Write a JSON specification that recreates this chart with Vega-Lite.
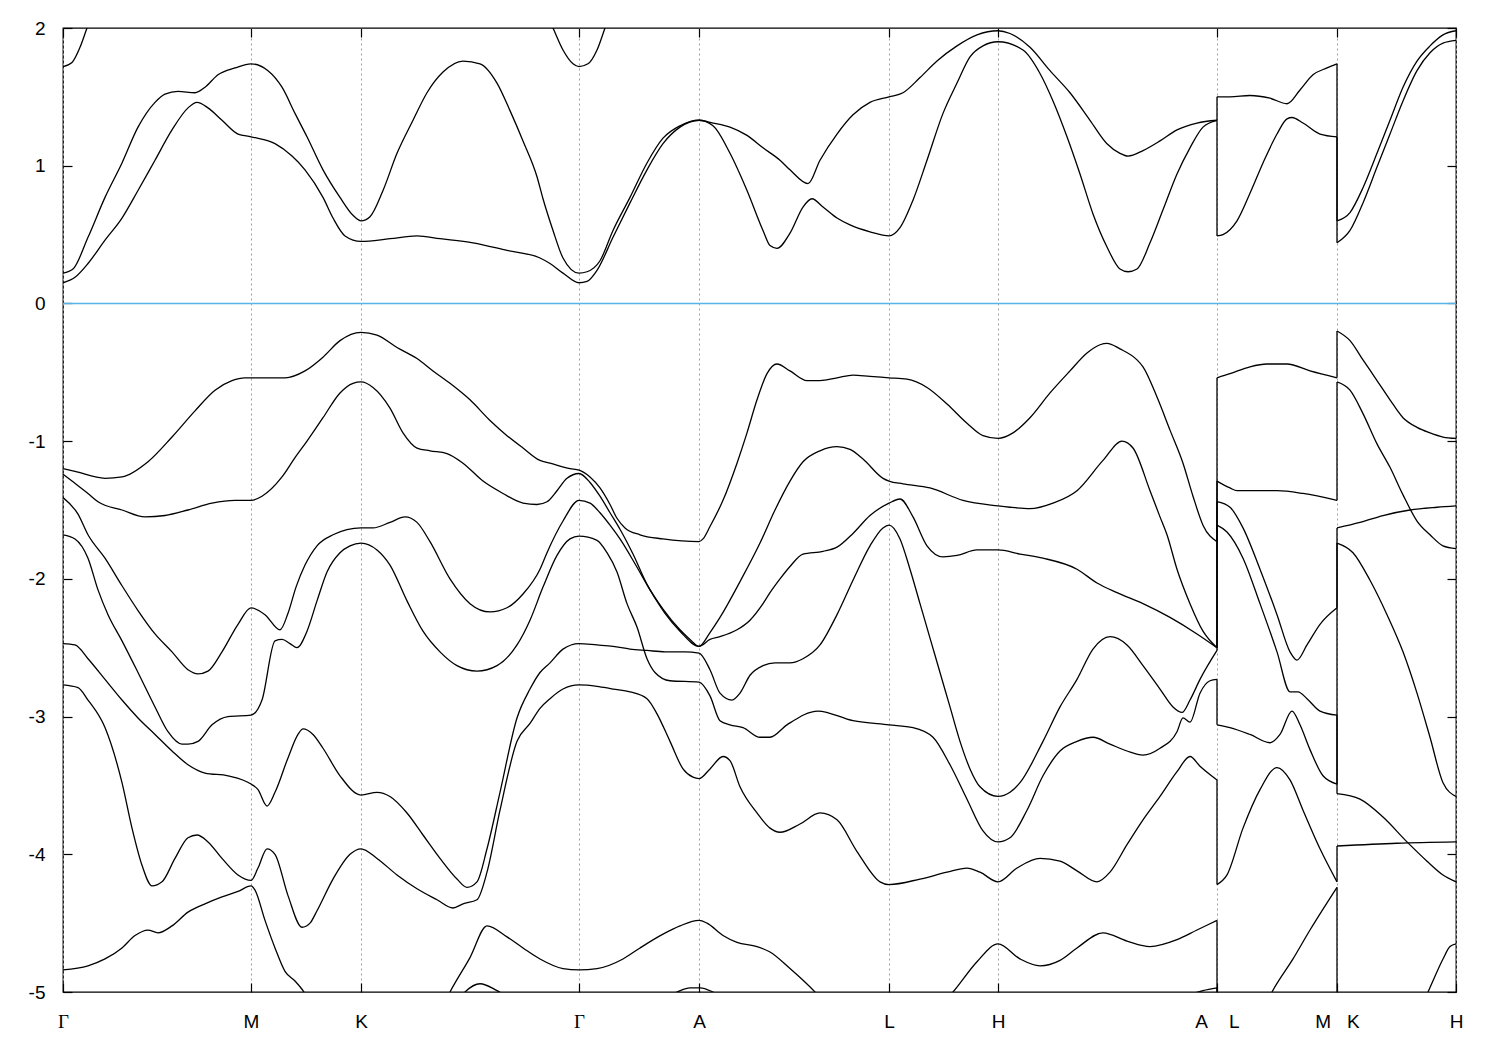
{
"$schema": "https://vega.github.io/schema/vega-lite/v6.json",
"width": 1393, "height": 964,
"autosize": {"type": "none"},
"padding": {"left": 63, "top": 28, "right": 44, "bottom": 58},
"background": "white",
"config": {"view": {"stroke": "black", "strokeWidth": 1.3}, "axis": {"domain": false, "labelColor": "black", "tickColor": "black", "tickWidth": 1.2}},
"resolve": {"axis": {"x": "independent", "y": "independent"}},
"layer": [
{
"data": {"values": [
{"b":"C1","k":0,"e":0.15},{"b":"C1","k":0.12,"e":0.19},{"b":"C1","k":0.25,"e":0.29},{"b":"C1","k":0.42,"e":0.46},{"b":"C1","k":0.59,"e":0.62},{"b":"C1","k":0.75,"e":0.82},{"b":"C1","k":0.92,"e":1.04},{"b":"C1","k":1.09,"e":1.26},{"b":"C1","k":1.25,"e":1.42},{"b":"C1","k":1.34,"e":1.46},{"b":"C1","k":1.45,"e":1.42},{"b":"C1","k":1.59,"e":1.33},{"b":"C1","k":1.75,"e":1.23},{"b":"C1","k":1.88,"e":1.21},{"b":"C1","k":2.12,"e":1.16},{"b":"C1","k":2.29,"e":1.07},{"b":"C1","k":2.42,"e":0.97},{"b":"C1","k":2.6,"e":0.77},{"b":"C1","k":2.7,"e":0.62},{"b":"C1","k":2.82,"e":0.49},{"b":"C1","k":2.98,"e":0.45},{"b":"C1","k":3.27,"e":0.47},{"b":"C1","k":3.54,"e":0.49},{"b":"C1","k":3.77,"e":0.47},{"b":"C1","k":4.1,"e":0.44},{"b":"C1","k":4.44,"e":0.385},{"b":"C1","k":4.77,"e":0.33},{"b":"C1","k":4.87,"e":0.29},{"b":"C1","k":5.0,"e":0.22},{"b":"C1","k":5.16,"e":0.15},{"b":"C1","k":5.24,"e":0.16},{"b":"C1","k":5.34,"e":0.24},{"b":"C1","k":5.5,"e":0.48},{"b":"C1","k":5.67,"e":0.73},{"b":"C1","k":5.84,"e":0.97},{"b":"C1","k":6.0,"e":1.16},{"b":"C1","k":6.17,"e":1.28},{"b":"C1","k":6.36,"e":1.33},{"b":"C1","k":6.5,"e":1.29},{"b":"C1","k":6.67,"e":1.09},{"b":"C1","k":6.84,"e":0.82},{"b":"C1","k":7.0,"e":0.53},{"b":"C1","k":7.07,"e":0.42},{"b":"C1","k":7.14,"e":0.40},{"b":"C1","k":7.27,"e":0.51},{"b":"C1","k":7.4,"e":0.70},{"b":"C1","k":7.49,"e":0.76},{"b":"C1","k":7.6,"e":0.70},{"b":"C1","k":7.74,"e":0.62},{"b":"C1","k":7.87,"e":0.57},{"b":"C1","k":8.07,"e":0.52},{"b":"C1","k":8.26,"e":0.49},{"b":"C1","k":8.37,"e":0.55},{"b":"C1","k":8.5,"e":0.75},{"b":"C1","k":8.64,"e":1.04},{"b":"C1","k":8.8,"e":1.38},{"b":"C1","k":8.94,"e":1.60},{"b":"C1","k":9.07,"e":1.79},{"b":"C1","k":9.2,"e":1.87},{"b":"C1","k":9.35,"e":1.90},{"b":"C1","k":9.6,"e":1.84},{"b":"C1","k":9.77,"e":1.67},{"b":"C1","k":9.9,"e":1.47},{"b":"C1","k":10.04,"e":1.21},{"b":"C1","k":10.17,"e":0.94},{"b":"C1","k":10.3,"e":0.65},{"b":"C1","k":10.44,"e":0.41},{"b":"C1","k":10.57,"e":0.25},{"b":"C1","k":10.65,"e":0.23},{"b":"C1","k":10.74,"e":0.25},{"b":"C1","k":10.87,"e":0.44},{"b":"C1","k":11.0,"e":0.68},{"b":"C1","k":11.14,"e":0.94},{"b":"C1","k":11.27,"e":1.13},{"b":"C1","k":11.4,"e":1.28},{"b":"C1","k":11.54,"e":1.33},
{"b":"C1b","k":11.54,"e":0.49},{"b":"C1b","k":11.6,"e":0.50},{"b":"C1b","k":11.74,"e":0.60},{"b":"C1b","k":11.87,"e":0.80},{"b":"C1b","k":12.0,"e":1.02},{"b":"C1b","k":12.14,"e":1.23},{"b":"C1b","k":12.24,"e":1.34},{"b":"C1b","k":12.29,"e":1.35},{"b":"C1b","k":12.4,"e":1.31},{"b":"C1b","k":12.57,"e":1.23},{"b":"C1b","k":12.74,"e":1.21},
{"b":"C1c","k":12.74,"e":0.44},{"b":"C1c","k":12.87,"e":0.53},{"b":"C1c","k":13.0,"e":0.73},{"b":"C1c","k":13.14,"e":0.99},{"b":"C1c","k":13.27,"e":1.23},{"b":"C1c","k":13.4,"e":1.47},{"b":"C1c","k":13.54,"e":1.69},{"b":"C1c","k":13.67,"e":1.82},{"b":"C1c","k":13.8,"e":1.89},{"b":"C1c","k":13.93,"e":1.91},
{"b":"C2","k":0,"e":0.22},{"b":"C2","k":0.10,"e":0.25},{"b":"C2","k":0.25,"e":0.48},{"b":"C2","k":0.42,"e":0.77},{"b":"C2","k":0.59,"e":1.02},{"b":"C2","k":0.75,"e":1.28},{"b":"C2","k":0.92,"e":1.46},{"b":"C2","k":1.02,"e":1.52},{"b":"C2","k":1.15,"e":1.54},{"b":"C2","k":1.32,"e":1.53},{"b":"C2","k":1.42,"e":1.57},{"b":"C2","k":1.55,"e":1.66},{"b":"C2","k":1.72,"e":1.71},{"b":"C2","k":1.88,"e":1.74},{"b":"C2","k":2.05,"e":1.69},{"b":"C2","k":2.19,"e":1.57},{"b":"C2","k":2.32,"e":1.38},{"b":"C2","k":2.44,"e":1.21},{"b":"C2","k":2.6,"e":0.97},{"b":"C2","k":2.77,"e":0.77},{"b":"C2","k":2.9,"e":0.64},{"b":"C2","k":2.98,"e":0.60},{"b":"C2","k":3.07,"e":0.63},{"b":"C2","k":3.2,"e":0.82},{"b":"C2","k":3.34,"e":1.09},{"b":"C2","k":3.5,"e":1.33},{"b":"C2","k":3.64,"e":1.53},{"b":"C2","k":3.8,"e":1.68},{"b":"C2","k":4.0,"e":1.76},{"b":"C2","k":4.17,"e":1.74},{"b":"C2","k":4.34,"e":1.60},{"b":"C2","k":4.47,"e":1.40},{"b":"C2","k":4.6,"e":1.18},{"b":"C2","k":4.74,"e":0.92},{"b":"C2","k":4.8,"e":0.76},{"b":"C2","k":4.9,"e":0.53},{"b":"C2","k":5.0,"e":0.33},{"b":"C2","k":5.16,"e":0.22},{"b":"C2","k":5.24,"e":0.23},{"b":"C2","k":5.37,"e":0.31},{"b":"C2","k":5.5,"e":0.53},{"b":"C2","k":5.67,"e":0.77},{"b":"C2","k":5.84,"e":1.02},{"b":"C2","k":6.0,"e":1.20},{"b":"C2","k":6.17,"e":1.29},{"b":"C2","k":6.36,"e":1.33},{"b":"C2","k":6.5,"e":1.31},{"b":"C2","k":6.67,"e":1.28},{"b":"C2","k":6.84,"e":1.22},{"b":"C2","k":7.0,"e":1.13},{"b":"C2","k":7.17,"e":1.04},{"b":"C2","k":7.27,"e":0.97},{"b":"C2","k":7.45,"e":0.87},{"b":"C2","k":7.57,"e":1.04},{"b":"C2","k":7.74,"e":1.23},{"b":"C2","k":7.9,"e":1.37},{"b":"C2","k":8.07,"e":1.46},{"b":"C2","k":8.26,"e":1.50},{"b":"C2","k":8.4,"e":1.53},{"b":"C2","k":8.57,"e":1.64},{"b":"C2","k":8.74,"e":1.76},{"b":"C2","k":8.94,"e":1.87},{"b":"C2","k":9.14,"e":1.95},{"b":"C2","k":9.35,"e":1.98},{"b":"C2","k":9.47,"e":1.96},{"b":"C2","k":9.67,"e":1.86},{"b":"C2","k":9.87,"e":1.69},{"b":"C2","k":10.07,"e":1.53},{"b":"C2","k":10.27,"e":1.33},{"b":"C2","k":10.44,"e":1.16},{"b":"C2","k":10.57,"e":1.09},{"b":"C2","k":10.65,"e":1.07},{"b":"C2","k":10.8,"e":1.11},{"b":"C2","k":10.97,"e":1.18},{"b":"C2","k":11.14,"e":1.26},{"b":"C2","k":11.34,"e":1.31},{"b":"C2","k":11.54,"e":1.33},
{"b":"C2b","k":11.54,"e":1.50},{"b":"C2b","k":11.67,"e":1.50},{"b":"C2b","k":11.87,"e":1.51},{"b":"C2b","k":12.07,"e":1.49},{"b":"C2b","k":12.24,"e":1.45},{"b":"C2b","k":12.37,"e":1.55},{"b":"C2b","k":12.5,"e":1.66},{"b":"C2b","k":12.64,"e":1.71},{"b":"C2b","k":12.74,"e":1.74},
{"b":"C2c","k":12.74,"e":0.60},{"b":"C2c","k":12.87,"e":0.66},{"b":"C2c","k":13.0,"e":0.84},{"b":"C2c","k":13.14,"e":1.09},{"b":"C2c","k":13.27,"e":1.33},{"b":"C2c","k":13.4,"e":1.57},{"b":"C2c","k":13.54,"e":1.76},{"b":"C2c","k":13.67,"e":1.87},{"b":"C2c","k":13.8,"e":1.95},{"b":"C2c","k":13.93,"e":1.98},
{"b":"C3","k":0,"e":1.72},{"b":"C3","k":0.09,"e":1.75},{"b":"C3","k":0.17,"e":1.86},{"b":"C3","k":0.24,"e":2.0},{"b":"C3","k":0.32,"e":2.15},{"b":"C3","k":0.57,"e":2.5},{"b":"C3","k":2.37,"e":2.8},{"b":"C3","k":4.77,"e":2.2},{"b":"C3","k":4.9,"e":2.0},{"b":"C3","k":5.0,"e":1.84},{"b":"C3","k":5.1,"e":1.74},{"b":"C3","k":5.16,"e":1.72},{"b":"C3","k":5.25,"e":1.74},{"b":"C3","k":5.34,"e":1.84},{"b":"C3","k":5.42,"e":2.0},{"b":"C3","k":5.52,"e":2.2},{"b":"C3","k":5.97,"e":2.6},
{"b":"V1","k":0,"e":-1.20},{"b":"V1","k":0.12,"e":-1.22},{"b":"V1","k":0.42,"e":-1.27},{"b":"V1","k":0.59,"e":-1.26},{"b":"V1","k":0.85,"e":-1.15},{"b":"V1","k":1.09,"e":-0.97},{"b":"V1","k":1.32,"e":-0.78},{"b":"V1","k":1.52,"e":-0.63},{"b":"V1","k":1.69,"e":-0.56},{"b":"V1","k":1.82,"e":-0.54},{"b":"V1","k":1.88,"e":-0.54},{"b":"V1","k":2.22,"e":-0.54},{"b":"V1","k":2.42,"e":-0.49},{"b":"V1","k":2.6,"e":-0.39},{"b":"V1","k":2.77,"e":-0.27},{"b":"V1","k":2.98,"e":-0.21},{"b":"V1","k":3.14,"e":-0.23},{"b":"V1","k":3.34,"e":-0.32},{"b":"V1","k":3.54,"e":-0.40},{"b":"V1","k":3.7,"e":-0.49},{"b":"V1","k":3.87,"e":-0.58},{"b":"V1","k":4.07,"e":-0.70},{"b":"V1","k":4.27,"e":-0.85},{"b":"V1","k":4.44,"e":-0.96},{"b":"V1","k":4.6,"e":-1.05},{"b":"V1","k":4.77,"e":-1.14},{"b":"V1","k":4.87,"e":-1.16},{"b":"V1","k":5.07,"e":-1.20},{"b":"V1","k":5.16,"e":-1.21},{"b":"V1","k":5.27,"e":-1.26},{"b":"V1","k":5.37,"e":-1.34},{"b":"V1","k":5.47,"e":-1.46},{"b":"V1","k":5.54,"e":-1.56},{"b":"V1","k":5.62,"e":-1.63},{"b":"V1","k":5.77,"e":-1.68},{"b":"V1","k":6.0,"e":-1.71},{"b":"V1","k":6.36,"e":-1.73},{"b":"V1","k":6.4,"e":-1.71},{"b":"V1","k":6.47,"e":-1.62},{"b":"V1","k":6.6,"e":-1.43},{"b":"V1","k":6.74,"e":-1.16},{"b":"V1","k":6.84,"e":-0.94},{"b":"V1","k":6.94,"e":-0.70},{"b":"V1","k":7.04,"e":-0.51},{"b":"V1","k":7.14,"e":-0.44},{"b":"V1","k":7.27,"e":-0.49},{"b":"V1","k":7.44,"e":-0.56},{"b":"V1","k":7.57,"e":-0.56},{"b":"V1","k":7.74,"e":-0.54},{"b":"V1","k":7.9,"e":-0.52},{"b":"V1","k":8.07,"e":-0.53},{"b":"V1","k":8.26,"e":-0.54},{"b":"V1","k":8.44,"e":-0.55},{"b":"V1","k":8.64,"e":-0.61},{"b":"V1","k":8.84,"e":-0.73},{"b":"V1","k":9.04,"e":-0.87},{"b":"V1","k":9.2,"e":-0.96},{"b":"V1","k":9.35,"e":-0.98},{"b":"V1","k":9.5,"e":-0.94},{"b":"V1","k":9.67,"e":-0.83},{"b":"V1","k":9.87,"e":-0.65},{"b":"V1","k":10.07,"e":-0.49},{"b":"V1","k":10.24,"e":-0.36},{"b":"V1","k":10.37,"e":-0.30},{"b":"V1","k":10.44,"e":-0.29},{"b":"V1","k":10.57,"e":-0.33},{"b":"V1","k":10.74,"e":-0.41},{"b":"V1","k":10.8,"e":-0.46},{"b":"V1","k":10.94,"e":-0.68},{"b":"V1","k":11.07,"e":-0.92},{"b":"V1","k":11.2,"e":-1.16},{"b":"V1","k":11.3,"e":-1.40},{"b":"V1","k":11.4,"e":-1.61},{"b":"V1","k":11.54,"e":-1.73},
{"b":"V1b","k":11.54,"e":-0.54},{"b":"V1b","k":11.67,"e":-0.51},{"b":"V1b","k":11.87,"e":-0.46},{"b":"V1b","k":12.04,"e":-0.44},{"b":"V1b","k":12.24,"e":-0.44},{"b":"V1b","k":12.47,"e":-0.49},{"b":"V1b","k":12.74,"e":-0.54},
{"b":"V1c","k":12.74,"e":-0.20},{"b":"V1c","k":12.87,"e":-0.27},{"b":"V1c","k":13.0,"e":-0.41},{"b":"V1c","k":13.14,"e":-0.56},{"b":"V1c","k":13.27,"e":-0.70},{"b":"V1c","k":13.4,"e":-0.83},{"b":"V1c","k":13.54,"e":-0.90},{"b":"V1c","k":13.67,"e":-0.94},{"b":"V1c","k":13.8,"e":-0.97},{"b":"V1c","k":13.93,"e":-0.98},
{"b":"V2","k":0,"e":-1.24},{"b":"V2","k":0.09,"e":-1.29},{"b":"V2","k":0.25,"e":-1.38},{"b":"V2","k":0.35,"e":-1.44},{"b":"V2","k":0.59,"e":-1.50},{"b":"V2","k":0.82,"e":-1.55},{"b":"V2","k":1.02,"e":-1.54},{"b":"V2","k":1.25,"e":-1.50},{"b":"V2","k":1.49,"e":-1.45},{"b":"V2","k":1.72,"e":-1.43},{"b":"V2","k":1.88,"e":-1.43},{"b":"V2","k":1.99,"e":-1.40},{"b":"V2","k":2.19,"e":-1.26},{"b":"V2","k":2.32,"e":-1.12},{"b":"V2","k":2.44,"e":-1.00},{"b":"V2","k":2.6,"e":-0.83},{"b":"V2","k":2.77,"e":-0.65},{"b":"V2","k":2.9,"e":-0.58},{"b":"V2","k":2.98,"e":-0.57},{"b":"V2","k":3.1,"e":-0.61},{"b":"V2","k":3.27,"e":-0.76},{"b":"V2","k":3.4,"e":-0.94},{"b":"V2","k":3.54,"e":-1.05},{"b":"V2","k":3.67,"e":-1.07},{"b":"V2","k":3.84,"e":-1.09},{"b":"V2","k":4.0,"e":-1.16},{"b":"V2","k":4.2,"e":-1.29},{"b":"V2","k":4.4,"e":-1.38},{"b":"V2","k":4.6,"e":-1.45},{"b":"V2","k":4.74,"e":-1.46},{"b":"V2","k":4.84,"e":-1.44},{"b":"V2","k":4.94,"e":-1.36},{"b":"V2","k":5.04,"e":-1.27},{"b":"V2","k":5.16,"e":-1.235},{"b":"V2","k":5.27,"e":-1.30},{"b":"V2","k":5.37,"e":-1.40},{"b":"V2","k":5.47,"e":-1.52},{"b":"V2","k":5.57,"e":-1.64},{"b":"V2","k":5.7,"e":-1.82},{"b":"V2","k":5.84,"e":-2.04},{"b":"V2","k":6.0,"e":-2.22},{"b":"V2","k":6.17,"e":-2.37},{"b":"V2","k":6.27,"e":-2.44},{"b":"V2","k":6.36,"e":-2.49},{"b":"V2","k":6.47,"e":-2.39},{"b":"V2","k":6.57,"e":-2.28},{"b":"V2","k":6.77,"e":-2.02},{"b":"V2","k":6.97,"e":-1.74},{"b":"V2","k":7.12,"e":-1.50},{"b":"V2","k":7.27,"e":-1.29},{"b":"V2","k":7.4,"e":-1.15},{"b":"V2","k":7.57,"e":-1.07},{"b":"V2","k":7.74,"e":-1.04},{"b":"V2","k":7.87,"e":-1.06},{"b":"V2","k":8.0,"e":-1.13},{"b":"V2","k":8.2,"e":-1.27},{"b":"V2","k":8.26,"e":-1.29},{"b":"V2","k":8.4,"e":-1.31},{"b":"V2","k":8.67,"e":-1.34},{"b":"V2","k":9.0,"e":-1.43},{"b":"V2","k":9.35,"e":-1.47},{"b":"V2","k":9.47,"e":-1.48},{"b":"V2","k":9.67,"e":-1.49},{"b":"V2","k":9.9,"e":-1.45},{"b":"V2","k":10.14,"e":-1.36},{"b":"V2","k":10.4,"e":-1.14},{"b":"V2","k":10.59,"e":-1.00},{"b":"V2","k":10.7,"e":-1.05},{"b":"V2","k":10.87,"e":-1.36},{"b":"V2","k":10.97,"e":-1.55},{"b":"V2","k":11.04,"e":-1.68},{"b":"V2","k":11.14,"e":-1.93},{"b":"V2","k":11.27,"e":-2.18},{"b":"V2","k":11.4,"e":-2.38},{"b":"V2","k":11.54,"e":-2.50},
{"b":"V2b","k":11.54,"e":-1.29},{"b":"V2b","k":11.67,"e":-1.34},{"b":"V2b","k":11.74,"e":-1.36},{"b":"V2b","k":12.14,"e":-1.36},{"b":"V2b","k":12.4,"e":-1.38},{"b":"V2b","k":12.74,"e":-1.43},
{"b":"V2c","k":12.74,"e":-0.57},{"b":"V2c","k":12.87,"e":-0.63},{"b":"V2c","k":13.0,"e":-0.80},{"b":"V2c","k":13.14,"e":-1.02},{"b":"V2c","k":13.27,"e":-1.19},{"b":"V2c","k":13.4,"e":-1.39},{"b":"V2c","k":13.54,"e":-1.58},{"b":"V2c","k":13.67,"e":-1.68},{"b":"V2c","k":13.8,"e":-1.76},{"b":"V2c","k":13.93,"e":-1.78},
{"b":"V3","k":0,"e":-1.41},{"b":"V3","k":0.15,"e":-1.53},{"b":"V3","k":0.25,"e":-1.68},{"b":"V3","k":0.42,"e":-1.85},{"b":"V3","k":0.59,"e":-2.05},{"b":"V3","k":0.75,"e":-2.23},{"b":"V3","k":0.92,"e":-2.40},{"b":"V3","k":1.09,"e":-2.53},{"b":"V3","k":1.25,"e":-2.66},{"b":"V3","k":1.35,"e":-2.69},{"b":"V3","k":1.45,"e":-2.67},{"b":"V3","k":1.59,"e":-2.53},{"b":"V3","k":1.75,"e":-2.33},{"b":"V3","k":1.88,"e":-2.21},{"b":"V3","k":2.02,"e":-2.26},{"b":"V3","k":2.17,"e":-2.37},{"b":"V3","k":2.25,"e":-2.25},{"b":"V3","k":2.33,"e":-2.06},{"b":"V3","k":2.42,"e":-1.90},{"b":"V3","k":2.54,"e":-1.76},{"b":"V3","k":2.7,"e":-1.68},{"b":"V3","k":2.98,"e":-1.63},{"b":"V3","k":3.1,"e":-1.63},{"b":"V3","k":3.27,"e":-1.59},{"b":"V3","k":3.42,"e":-1.55},{"b":"V3","k":3.54,"e":-1.59},{"b":"V3","k":3.67,"e":-1.73},{"b":"V3","k":3.87,"e":-2.00},{"b":"V3","k":4.07,"e":-2.18},{"b":"V3","k":4.27,"e":-2.24},{"b":"V3","k":4.44,"e":-2.21},{"b":"V3","k":4.6,"e":-2.11},{"b":"V3","k":4.77,"e":-1.93},{"b":"V3","k":4.84,"e":-1.81},{"b":"V3","k":5.0,"e":-1.58},{"b":"V3","k":5.16,"e":-1.43},{"b":"V3","k":5.27,"e":-1.45},{"b":"V3","k":5.37,"e":-1.52},{"b":"V3","k":5.47,"e":-1.61},{"b":"V3","k":5.57,"e":-1.71},{"b":"V3","k":5.72,"e":-1.89},{"b":"V3","k":5.87,"e":-2.08},{"b":"V3","k":6.02,"e":-2.25},{"b":"V3","k":6.17,"e":-2.38},{"b":"V3","k":6.36,"e":-2.49},{"b":"V3","k":6.47,"e":-2.44},{"b":"V3","k":6.57,"e":-2.42},{"b":"V3","k":6.74,"e":-2.37},{"b":"V3","k":6.87,"e":-2.30},{"b":"V3","k":7.0,"e":-2.18},{"b":"V3","k":7.07,"e":-2.10},{"b":"V3","k":7.17,"e":-2.00},{"b":"V3","k":7.27,"e":-1.91},{"b":"V3","k":7.4,"e":-1.82},{"b":"V3","k":7.6,"e":-1.80},{"b":"V3","k":7.74,"e":-1.77},{"b":"V3","k":7.9,"e":-1.67},{"b":"V3","k":8.07,"e":-1.54},{"b":"V3","k":8.26,"e":-1.45},{"b":"V3","k":8.37,"e":-1.42},{"b":"V3","k":8.5,"e":-1.55},{"b":"V3","k":8.64,"e":-1.76},{"b":"V3","k":8.8,"e":-1.84},{"b":"V3","k":8.94,"e":-1.83},{"b":"V3","k":9.14,"e":-1.79},{"b":"V3","k":9.35,"e":-1.79},{"b":"V3","k":9.57,"e":-1.82},{"b":"V3","k":9.8,"e":-1.85},{"b":"V3","k":10.14,"e":-1.93},{"b":"V3","k":10.34,"e":-2.03},{"b":"V3","k":10.54,"e":-2.10},{"b":"V3","k":10.8,"e":-2.18},{"b":"V3","k":11.07,"e":-2.28},{"b":"V3","k":11.34,"e":-2.40},{"b":"V3","k":11.54,"e":-2.50},
{"b":"V3b","k":11.54,"e":-1.44},{"b":"V3b","k":11.67,"e":-1.48},{"b":"V3b","k":11.8,"e":-1.63},{"b":"V3b","k":11.97,"e":-1.93},{"b":"V3b","k":12.14,"e":-2.26},{"b":"V3b","k":12.27,"e":-2.53},{"b":"V3b","k":12.34,"e":-2.59},{"b":"V3b","k":12.44,"e":-2.48},{"b":"V3b","k":12.57,"e":-2.33},{"b":"V3b","k":12.74,"e":-2.21},
{"b":"V3c","k":12.74,"e":-1.63},{"b":"V3c","k":12.97,"e":-1.59},{"b":"V3c","k":13.2,"e":-1.54},{"b":"V3c","k":13.47,"e":-1.50},{"b":"V3c","k":13.74,"e":-1.48},{"b":"V3c","k":13.93,"e":-1.47},
{"b":"Q","k":0,"e":-2.47},{"b":"Q","k":0.12,"e":-2.48},{"b":"Q","k":0.25,"e":-2.58},{"b":"Q","k":0.42,"e":-2.73},{"b":"Q","k":0.59,"e":-2.88},{"b":"Q","k":0.75,"e":-3.01},{"b":"Q","k":0.92,"e":-3.13},{"b":"Q","k":1.09,"e":-3.25},{"b":"Q","k":1.25,"e":-3.35},{"b":"Q","k":1.42,"e":-3.41},{"b":"Q","k":1.65,"e":-3.43},{"b":"Q","k":1.88,"e":-3.49},{"b":"Q","k":1.95,"e":-3.53},{"b":"Q","k":2.04,"e":-3.65},{"b":"Q","k":2.12,"e":-3.55},{"b":"Q","k":2.25,"e":-3.30},{"b":"Q","k":2.35,"e":-3.13},{"b":"Q","k":2.4,"e":-3.09},{"b":"Q","k":2.5,"e":-3.13},{"b":"Q","k":2.6,"e":-3.23},{"b":"Q","k":2.77,"e":-3.43},{"b":"Q","k":2.98,"e":-3.57},{"b":"Q","k":3.14,"e":-3.55},{"b":"Q","k":3.27,"e":-3.58},{"b":"Q","k":3.44,"e":-3.70},{"b":"Q","k":3.6,"e":-3.86},{"b":"Q","k":3.77,"e":-4.03},{"b":"Q","k":3.94,"e":-4.18},{"b":"Q","k":4.04,"e":-4.24},{"b":"Q","k":4.14,"e":-4.20},{"b":"Q","k":4.24,"e":-3.96},{"b":"Q","k":4.37,"e":-3.55},{"b":"Q","k":4.54,"e":-3.01},{"b":"Q","k":4.67,"e":-2.80},{"b":"Q","k":4.77,"e":-2.68},{"b":"Q","k":4.87,"e":-2.61},{"b":"Q","k":5.0,"e":-2.51},{"b":"Q","k":5.16,"e":-2.47},{"b":"Q","k":5.34,"e":-2.48},{"b":"Q","k":5.5,"e":-2.49},{"b":"Q","k":5.67,"e":-2.51},{"b":"Q","k":5.84,"e":-2.52},{"b":"Q","k":6.02,"e":-2.53},{"b":"Q","k":6.22,"e":-2.53},{"b":"Q","k":6.36,"e":-2.54},{"b":"Q","k":6.47,"e":-2.66},{"b":"Q","k":6.57,"e":-2.83},{"b":"Q","k":6.69,"e":-2.88},{"b":"Q","k":6.77,"e":-2.83},{"b":"Q","k":6.87,"e":-2.70},{"b":"Q","k":7.0,"e":-2.63},{"b":"Q","k":7.12,"e":-2.61},{"b":"Q","k":7.27,"e":-2.61},{"b":"Q","k":7.4,"e":-2.58},{"b":"Q","k":7.57,"e":-2.48},{"b":"Q","k":7.74,"e":-2.26},{"b":"Q","k":7.9,"e":-2.01},{"b":"Q","k":8.07,"e":-1.76},{"b":"Q","k":8.2,"e":-1.63},{"b":"Q","k":8.26,"e":-1.61},{"b":"Q","k":8.37,"e":-1.71},{"b":"Q","k":8.47,"e":-1.93},{"b":"Q","k":8.57,"e":-2.18},{"b":"Q","k":8.67,"e":-2.43},{"b":"Q","k":8.77,"e":-2.68},{"b":"Q","k":8.87,"e":-2.93},{"b":"Q","k":8.97,"e":-3.18},{"b":"Q","k":9.07,"e":-3.38},{"b":"Q","k":9.17,"e":-3.51},{"b":"Q","k":9.35,"e":-3.58},{"b":"Q","k":9.47,"e":-3.55},{"b":"Q","k":9.57,"e":-3.48},{"b":"Q","k":9.8,"e":-3.18},{"b":"Q","k":9.97,"e":-2.93},{"b":"Q","k":10.14,"e":-2.73},{"b":"Q","k":10.3,"e":-2.51},{"b":"Q","k":10.47,"e":-2.42},{"b":"Q","k":10.64,"e":-2.48},{"b":"Q","k":10.8,"e":-2.63},{"b":"Q","k":10.97,"e":-2.80},{"b":"Q","k":11.1,"e":-2.93},{"b":"Q","k":11.19,"e":-2.97},{"b":"Q","k":11.27,"e":-2.88},{"b":"Q","k":11.37,"e":-2.73},{"b":"Q","k":11.54,"e":-2.52},
{"b":"Qb","k":11.54,"e":-1.61},{"b":"Qb","k":11.64,"e":-1.66},{"b":"Qb","k":11.8,"e":-1.85},{"b":"Qb","k":11.97,"e":-2.18},{"b":"Qb","k":12.14,"e":-2.53},{"b":"Qb","k":12.27,"e":-2.82},{"b":"Qb","k":12.35,"e":-2.82},{"b":"Qb","k":12.44,"e":-2.87},{"b":"Qb","k":12.57,"e":-2.96},{"b":"Qb","k":12.74,"e":-2.99},
{"b":"Qc","k":12.74,"e":-3.56},{"b":"Qc","k":12.97,"e":-3.60},{"b":"Qc","k":13.2,"e":-3.73},{"b":"Qc","k":13.44,"e":-3.91},{"b":"Qc","k":13.64,"e":-4.05},{"b":"Qc","k":13.8,"e":-4.15},{"b":"Qc","k":13.93,"e":-4.20},
{"b":"P","k":0,"e":-1.68},{"b":"P","k":0.12,"e":-1.71},{"b":"P","k":0.25,"e":-1.85},{"b":"P","k":0.35,"e":-2.08},{"b":"P","k":0.45,"e":-2.26},{"b":"P","k":0.59,"e":-2.45},{"b":"P","k":0.75,"e":-2.68},{"b":"P","k":0.92,"e":-2.93},{"b":"P","k":1.05,"e":-3.11},{"b":"P","k":1.19,"e":-3.20},{"b":"P","k":1.25,"e":-3.20},{"b":"P","k":1.35,"e":-3.18},{"b":"P","k":1.49,"e":-3.06},{"b":"P","k":1.65,"e":-3.00},{"b":"P","k":1.88,"e":-2.99},{"b":"P","k":1.99,"e":-2.88},{"b":"P","k":2.12,"e":-2.45},{"b":"P","k":2.19,"e":-2.44},{"b":"P","k":2.27,"e":-2.47},{"b":"P","k":2.34,"e":-2.50},{"b":"P","k":2.44,"e":-2.38},{"b":"P","k":2.54,"e":-2.16},{"b":"P","k":2.64,"e":-1.95},{"b":"P","k":2.77,"e":-1.81},{"b":"P","k":2.87,"e":-1.76},{"b":"P","k":2.98,"e":-1.74},{"b":"P","k":3.14,"e":-1.79},{"b":"P","k":3.27,"e":-1.90},{"b":"P","k":3.44,"e":-2.16},{"b":"P","k":3.6,"e":-2.38},{"b":"P","k":3.77,"e":-2.53},{"b":"P","k":3.94,"e":-2.63},{"b":"P","k":4.14,"e":-2.67},{"b":"P","k":4.34,"e":-2.63},{"b":"P","k":4.54,"e":-2.48},{"b":"P","k":4.67,"e":-2.30},{"b":"P","k":4.8,"e":-2.06},{"b":"P","k":4.94,"e":-1.83},{"b":"P","k":5.07,"e":-1.71},{"b":"P","k":5.16,"e":-1.69},{"b":"P","k":5.34,"e":-1.72},{"b":"P","k":5.44,"e":-1.81},{"b":"P","k":5.54,"e":-1.95},{"b":"P","k":5.64,"e":-2.18},{"b":"P","k":5.74,"e":-2.35},{"b":"P","k":5.84,"e":-2.58},{"b":"P","k":5.92,"e":-2.68},{"b":"P","k":6.07,"e":-2.74},{"b":"P","k":6.36,"e":-2.75},{"b":"P","k":6.47,"e":-2.85},{"b":"P","k":6.57,"e":-3.03},{"b":"P","k":6.67,"e":-3.06},{"b":"P","k":6.8,"e":-3.08},{"b":"P","k":6.97,"e":-3.15},{"b":"P","k":7.07,"e":-3.15},{"b":"P","k":7.24,"e":-3.06},{"b":"P","k":7.55,"e":-2.96},{"b":"P","k":7.9,"e":-3.03},{"b":"P","k":8.26,"e":-3.06},{"b":"P","k":8.5,"e":-3.08},{"b":"P","k":8.7,"e":-3.15},{"b":"P","k":8.87,"e":-3.35},{"b":"P","k":9.04,"e":-3.60},{"b":"P","k":9.2,"e":-3.83},{"b":"P","k":9.35,"e":-3.91},{"b":"P","k":9.47,"e":-3.88},{"b":"P","k":9.64,"e":-3.68},{"b":"P","k":9.8,"e":-3.43},{"b":"P","k":9.97,"e":-3.25},{"b":"P","k":10.14,"e":-3.18},{"b":"P","k":10.3,"e":-3.15},{"b":"P","k":10.47,"e":-3.20},{"b":"P","k":10.64,"e":-3.25},{"b":"P","k":10.8,"e":-3.28},{"b":"P","k":10.97,"e":-3.23},{"b":"P","k":11.14,"e":-3.11},{"b":"P","k":11.2,"e":-3.01},{"b":"P","k":11.27,"e":-3.04},{"b":"P","k":11.37,"e":-2.83},{"b":"P","k":11.47,"e":-2.74},{"b":"P","k":11.54,"e":-2.73},
{"b":"Pb","k":11.54,"e":-3.06},{"b":"Pb","k":11.67,"e":-3.08},{"b":"Pb","k":11.87,"e":-3.13},{"b":"Pb","k":12.07,"e":-3.19},{"b":"Pb","k":12.17,"e":-3.13},{"b":"Pb","k":12.29,"e":-2.96},{"b":"Pb","k":12.37,"e":-3.06},{"b":"Pb","k":12.47,"e":-3.24},{"b":"Pb","k":12.6,"e":-3.43},{"b":"Pb","k":12.74,"e":-3.49},
{"b":"Pc","k":12.74,"e":-1.74},{"b":"Pc","k":12.9,"e":-1.81},{"b":"Pc","k":13.07,"e":-2.01},{"b":"Pc","k":13.24,"e":-2.26},{"b":"Pc","k":13.4,"e":-2.53},{"b":"Pc","k":13.54,"e":-2.83},{"b":"Pc","k":13.67,"e":-3.15},{"b":"Pc","k":13.8,"e":-3.48},{"b":"Pc","k":13.93,"e":-3.58},
{"b":"V6","k":0,"e":-2.77},{"b":"V6","k":0.15,"e":-2.79},{"b":"V6","k":0.25,"e":-2.88},{"b":"V6","k":0.42,"e":-3.08},{"b":"V6","k":0.59,"e":-3.48},{"b":"V6","k":0.69,"e":-3.81},{"b":"V6","k":0.79,"e":-4.08},{"b":"V6","k":0.89,"e":-4.23},{"b":"V6","k":0.99,"e":-4.20},{"b":"V6","k":1.12,"e":-4.03},{"b":"V6","k":1.25,"e":-3.88},{"b":"V6","k":1.34,"e":-3.86},{"b":"V6","k":1.45,"e":-3.91},{"b":"V6","k":1.59,"e":-4.03},{"b":"V6","k":1.75,"e":-4.15},{"b":"V6","k":1.88,"e":-4.19},{"b":"V6","k":1.95,"e":-4.10},{"b":"V6","k":2.04,"e":-3.96},{"b":"V6","k":2.12,"e":-4.00},{"b":"V6","k":2.25,"e":-4.30},{"b":"V6","k":2.39,"e":-4.53},{"b":"V6","k":2.47,"e":-4.50},{"b":"V6","k":2.54,"e":-4.41},{"b":"V6","k":2.7,"e":-4.18},{"b":"V6","k":2.87,"e":-4.00},{"b":"V6","k":2.98,"e":-3.96},{"b":"V6","k":3.14,"e":-4.03},{"b":"V6","k":3.34,"e":-4.15},{"b":"V6","k":3.54,"e":-4.25},{"b":"V6","k":3.74,"e":-4.33},{"b":"V6","k":3.9,"e":-4.39},{"b":"V6","k":4.0,"e":-4.36},{"b":"V6","k":4.14,"e":-4.33},{"b":"V6","k":4.24,"e":-4.13},{"b":"V6","k":4.37,"e":-3.68},{"b":"V6","k":4.54,"e":-3.18},{"b":"V6","k":4.67,"e":-3.05},{"b":"V6","k":4.77,"e":-2.94},{"b":"V6","k":4.87,"e":-2.87},{"b":"V6","k":5.0,"e":-2.80},{"b":"V6","k":5.16,"e":-2.77},{"b":"V6","k":5.34,"e":-2.78},{"b":"V6","k":5.5,"e":-2.80},{"b":"V6","k":5.67,"e":-2.82},{"b":"V6","k":5.84,"e":-2.87},{"b":"V6","k":5.94,"e":-2.98},{"b":"V6","k":6.07,"e":-3.18},{"b":"V6","k":6.2,"e":-3.38},{"b":"V6","k":6.3,"e":-3.44},{"b":"V6","k":6.36,"e":-3.45},{"b":"V6","k":6.47,"e":-3.38},{"b":"V6","k":6.6,"e":-3.29},{"b":"V6","k":6.67,"e":-3.32},{"b":"V6","k":6.77,"e":-3.51},{"b":"V6","k":6.94,"e":-3.70},{"b":"V6","k":7.07,"e":-3.81},{"b":"V6","k":7.17,"e":-3.84},{"b":"V6","k":7.37,"e":-3.78},{"b":"V6","k":7.57,"e":-3.70},{"b":"V6","k":7.74,"e":-3.75},{"b":"V6","k":7.94,"e":-3.98},{"b":"V6","k":8.17,"e":-4.20},{"b":"V6","k":8.26,"e":-4.22},{"b":"V6","k":8.57,"e":-4.18},{"b":"V6","k":8.84,"e":-4.13},{"b":"V6","k":9.04,"e":-4.10},{"b":"V6","k":9.17,"e":-4.13},{"b":"V6","k":9.35,"e":-4.20},{"b":"V6","k":9.54,"e":-4.10},{"b":"V6","k":9.77,"e":-4.03},{"b":"V6","k":9.97,"e":-4.05},{"b":"V6","k":10.14,"e":-4.12},{"b":"V6","k":10.34,"e":-4.20},{"b":"V6","k":10.47,"e":-4.13},{"b":"V6","k":10.64,"e":-3.93},{"b":"V6","k":10.8,"e":-3.75},{"b":"V6","k":10.97,"e":-3.58},{"b":"V6","k":11.14,"e":-3.40},{"b":"V6","k":11.27,"e":-3.29},{"b":"V6","k":11.37,"e":-3.36},{"b":"V6","k":11.54,"e":-3.46},
{"b":"V6b","k":11.54,"e":-4.22},{"b":"V6b","k":11.64,"e":-4.15},{"b":"V6b","k":11.8,"e":-3.81},{"b":"V6b","k":11.97,"e":-3.53},{"b":"V6b","k":12.14,"e":-3.37},{"b":"V6b","k":12.27,"e":-3.46},{"b":"V6b","k":12.4,"e":-3.68},{"b":"V6b","k":12.57,"e":-3.96},{"b":"V6b","k":12.74,"e":-4.20},
{"b":"V6c","k":12.74,"e":-3.94},{"b":"V6c","k":13.34,"e":-3.92},{"b":"V6c","k":13.93,"e":-3.91},
{"b":"V7","k":0,"e":-4.84},{"b":"V7","k":0.25,"e":-4.81},{"b":"V7","k":0.42,"e":-4.76},{"b":"V7","k":0.59,"e":-4.68},{"b":"V7","k":0.72,"e":-4.59},{"b":"V7","k":0.85,"e":-4.55},{"b":"V7","k":0.95,"e":-4.57},{"b":"V7","k":1.09,"e":-4.52},{"b":"V7","k":1.25,"e":-4.42},{"b":"V7","k":1.42,"e":-4.36},{"b":"V7","k":1.59,"e":-4.31},{"b":"V7","k":1.75,"e":-4.27},{"b":"V7","k":1.88,"e":-4.23},{"b":"V7","k":1.92,"e":-4.26},{"b":"V7","k":2.02,"e":-4.48},{"b":"V7","k":2.12,"e":-4.68},{"b":"V7","k":2.22,"e":-4.85},{"b":"V7","k":2.32,"e":-4.92},{"b":"V7","k":2.39,"e":-4.98},{"b":"V7","k":2.57,"e":-5.2},{"b":"V7","k":3.17,"e":-5.6},{"b":"V7","k":3.67,"e":-5.3},{"b":"V7","k":3.87,"e":-5.0},{"b":"V7","k":4.07,"e":-4.75},{"b":"V7","k":4.24,"e":-4.52},{"b":"V7","k":4.44,"e":-4.60},{"b":"V7","k":4.6,"e":-4.68},{"b":"V7","k":4.77,"e":-4.76},{"b":"V7","k":5.0,"e":-4.83},{"b":"V7","k":5.16,"e":-4.84},{"b":"V7","k":5.34,"e":-4.83},{"b":"V7","k":5.6,"e":-4.76},{"b":"V7","k":5.77,"e":-4.68},{"b":"V7","k":6.0,"e":-4.58},{"b":"V7","k":6.17,"e":-4.52},{"b":"V7","k":6.36,"e":-4.48},{"b":"V7","k":6.44,"e":-4.50},{"b":"V7","k":6.6,"e":-4.59},{"b":"V7","k":6.74,"e":-4.64},{"b":"V7","k":6.94,"e":-4.67},{"b":"V7","k":7.07,"e":-4.71},{"b":"V7","k":7.27,"e":-4.83},{"b":"V7","k":7.52,"e":-5.0},{"b":"V7","k":7.87,"e":-5.3},{"b":"V7","k":8.37,"e":-5.4},{"b":"V7","k":8.77,"e":-5.1},{"b":"V7","k":8.9,"e":-5.0},{"b":"V7","k":9.14,"e":-4.78},{"b":"V7","k":9.35,"e":-4.65},{"b":"V7","k":9.57,"e":-4.76},{"b":"V7","k":9.77,"e":-4.81},{"b":"V7","k":9.97,"e":-4.77},{"b":"V7","k":10.14,"e":-4.68},{"b":"V7","k":10.4,"e":-4.57},{"b":"V7","k":10.64,"e":-4.63},{"b":"V7","k":10.87,"e":-4.67},{"b":"V7","k":11.14,"e":-4.62},{"b":"V7","k":11.34,"e":-4.55},{"b":"V7","k":11.54,"e":-4.48},
{"b":"V7b","k":11.54,"e":-5.7},{"b":"V7b","k":11.87,"e":-5.35},{"b":"V7b","k":12.09,"e":-5.0},{"b":"V7b","k":12.3,"e":-4.76},{"b":"V7b","k":12.47,"e":-4.55},{"b":"V7b","k":12.74,"e":-4.24},
{"b":"V7c","k":12.74,"e":-5.8},{"b":"V7c","k":13.37,"e":-5.4},{"b":"V7c","k":13.65,"e":-5.0},{"b":"V7c","k":13.8,"e":-4.76},{"b":"V7c","k":13.87,"e":-4.67},{"b":"V7c","k":13.93,"e":-4.65},
{"b":"V8","k":3.37,"e":-5.5},{"b":"V8","k":3.87,"e":-5.15},{"b":"V8","k":4.02,"e":-5.0},{"b":"V8","k":4.17,"e":-4.94},{"b":"V8","k":4.34,"e":-4.99},{"b":"V8","k":4.57,"e":-5.1},{"b":"V8","k":5.16,"e":-5.3},{"b":"V8","k":5.77,"e":-5.15},{"b":"V8","k":6.14,"e":-5.0},{"b":"V8","k":6.27,"e":-4.97},{"b":"V8","k":6.37,"e":-4.97},{"b":"V8","k":6.5,"e":-5.0},{"b":"V8","k":6.97,"e":-5.3},{"b":"V8","k":8.37,"e":-5.8},{"b":"V8","k":10.37,"e":-5.4},{"b":"V8","k":11.07,"e":-5.1},{"b":"V8","k":11.27,"e":-5.02},{"b":"V8","k":11.4,"e":-4.99},{"b":"V8","k":11.54,"e":-4.97}
]},
"transform": [{"window": [{"op": "row_number", "as": "i"}], "groupby": ["b"]}],
"mark": {"type": "line", "color": "black", "strokeWidth": 1.3, "clip": true, "interpolate": "monotone"},
"encoding": {
"x": {"field": "k", "type": "quantitative", "scale": {"domain": [0, 13.93], "nice": false, "zero": false},
 "axis": {"orient": "bottom", "title": null, "values": [0, 1.88, 2.98, 5.16, 6.36, 8.26, 9.35, 11.54, 12.74, 13.93],
  "labelExpr": "datum.value==0||datum.value==5.16?'Γ':datum.value==1.88?'M':datum.value==2.98?'K':datum.value==6.36?'A':datum.value==8.26?'L':datum.value==9.35?'H':datum.value==11.54?'A\u00a0\u00a0\u00a0\u00a0L':datum.value==12.74?'M\u00a0\u00a0\u00a0K':'H'",
  "labelFont": {"condition": {"test": "datum.value==0||datum.value==5.16", "value": "Liberation Serif"}, "value": "Liberation Sans"},
  "labelFontSize": 19, "labelPadding": 29, "tickSize": -9, "labelOverlap": false, "labelFlush": false, "labelBound": false,
  "grid": true, "gridDash": [2, 3], "gridColor": "#a0a0a0", "gridWidth": 1}},
"y": {"field": "e", "type": "quantitative", "scale": {"domain": [-5, 2], "nice": false, "zero": false},
 "axis": {"orient": "left", "title": null, "values": [-5, -4, -3, -2, -1, 0, 1, 2], "labelExpr": "'' + datum.value",
  "labelFont": "Liberation Sans", "labelFontSize": 19, "labelPadding": 27, "tickSize": -9, "grid": false, "labelOverlap": false, "labelFlush": false, "labelBound": false}},
"detail": {"field": "b"},
"order": {"field": "i"}
}
},
{
"data": {"values": [
{"k":11.54,"e1":1.33,"e2":0.49},{"k":12.74,"e1":1.21,"e2":0.44},
{"k":11.54,"e1":1.33,"e2":1.50},{"k":12.74,"e1":1.74,"e2":0.60},
{"k":11.54,"e1":-1.73,"e2":-0.54},{"k":12.74,"e1":-0.54,"e2":-0.20},
{"k":11.54,"e1":-2.50,"e2":-1.29},{"k":12.74,"e1":-1.43,"e2":-0.57},
{"k":11.54,"e1":-2.50,"e2":-1.44},{"k":12.74,"e1":-2.21,"e2":-1.63},
{"k":11.54,"e1":-2.52,"e2":-1.61},{"k":12.74,"e1":-2.99,"e2":-3.56},
{"k":11.54,"e1":-2.73,"e2":-3.06},{"k":12.74,"e1":-3.49,"e2":-1.74},
{"k":11.54,"e1":-3.46,"e2":-4.22},{"k":12.74,"e1":-4.20,"e2":-3.94},
{"k":11.54,"e1":-4.48,"e2":-5.7},{"k":12.74,"e1":-4.24,"e2":-5.8},
{"k":11.54,"e1":-4.97,"e2":-6.2}
]},
"mark": {"type": "rule", "color": "black", "strokeWidth": 1.3, "clip": true},
"encoding": {
"x": {"field": "k", "type": "quantitative", "axis": null},
"y": {"field": "e1", "type": "quantitative", "axis": null},
"y2": {"field": "e2"}
}
},
{
"data": {"values": [{}]},
"mark": {"type": "rule", "color": "#56b4e9", "strokeWidth": 1.5},
"encoding": {
"x": {"datum": 0, "type": "quantitative", "axis": {"orient": "top", "title": null, "values": [0, 1.88, 2.98, 5.16, 6.36, 8.26, 9.35, 11.54, 12.74, 13.93], "labels": false, "tickSize": -9, "grid": false}},
"x2": {"datum": 13.93},
"y": {"datum": 0, "type": "quantitative", "axis": {"orient": "right", "title": null, "values": [-5, -4, -3, -2, -1, 0, 1, 2], "labels": false, "tickSize": -9, "grid": false}}
}
}
]
}
